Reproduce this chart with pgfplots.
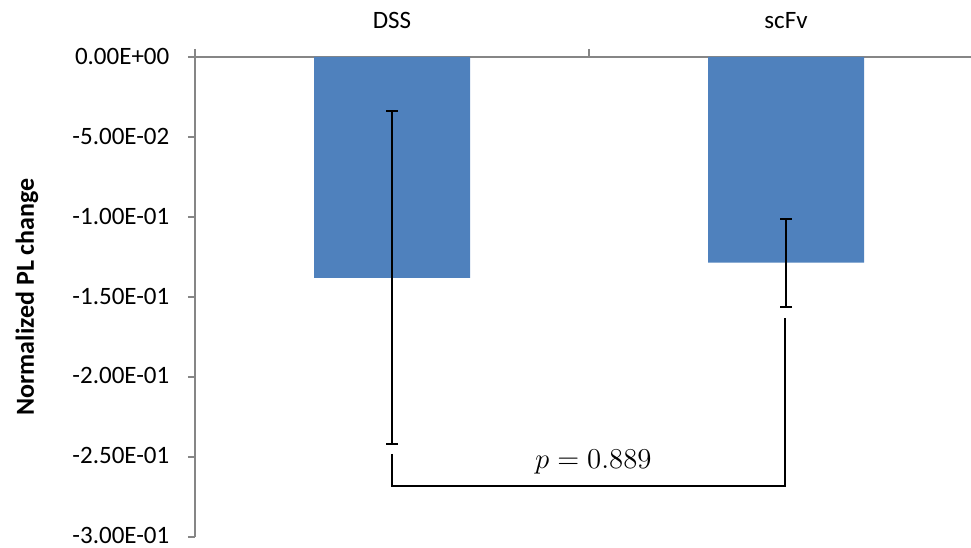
\documentclass[border=0pt]{standalone}
\usepackage{pgfplots}
\pgfplotsset{compat=1.18}
\usepackage{fontspec}
\setmainfont{Carlito}
\definecolor{barblue}{HTML}{4F81BD}
\definecolor{axgray}{HTML}{868686}
\begin{document}
\begin{tikzpicture}
\begin{axis}[name=ax, at={(0,0)}, anchor=south west,
  scale only axis, width=388pt, height=240pt,
  xmin=-0.5, xmax=1.4695, ymin=-0.3, ymax=0,
  axis x line*=top, axis y line*=left,
  axis line style={axgray, line width=1pt},
  tick align=outside, major tick length=3.5pt, minor tick length=4pt,
  xtick={0,1}, xticklabels={DSS,scFv},
  major x tick style={draw=none},
  minor xtick={-0.5,0.5},
  minor x tick style={axgray, line width=1pt},
  ytick={-0.3,-0.25,-0.2,-0.15,-0.1,-0.05,0},
  yticklabels={-3.00E-01,-2.50E-01,-2.00E-01,-1.50E-01,-1.00E-01,-5.00E-02,0.00E+00},
  major y tick style={axgray, line width=1pt},
  tick label style={font=\fontsize{12.5}{15}\selectfont},
  yticklabel style={xshift=-5.8pt, yshift=0.5pt},
  xticklabel style={yshift=7pt},
  ylabel={\bfseries Normalized PL change},
  ylabel style={at={(axis description cs:-0.2165,0.5)}, anchor=center, font=\fontsize{13}{15}\selectfont},
  clip=false,
]
\addplot[ybar, bar width=78pt, fill=barblue, draw=none,
  error bars/.cd, y dir=both, y explicit,
  error bar style={black, line width=1pt},
  error mark options={rotate=90, mark size=3pt, black, line width=1pt}]
  coordinates {(0,-0.138) +- (0,0.104) (1,-0.1285) +- (0,0.0275)};
\draw[black, line width=1pt] (axis cs:0,-0.248) -- (axis cs:0,-0.268) -- (axis cs:0.9975,-0.268) -- (axis cs:0.9975,-0.163);
\node[anchor=base, font=\fontsize{15}{18}\selectfont] at (axis cs:0.511,-0.257) {$p = 0.889$};
\end{axis}
\pgfresetboundingbox
\path[use as bounding box] ([shift={(-97.5pt,-5.5pt)}]ax.south west) rectangle ([shift={(0pt,28.5pt)}]ax.north east);
\end{tikzpicture}
\end{document}
